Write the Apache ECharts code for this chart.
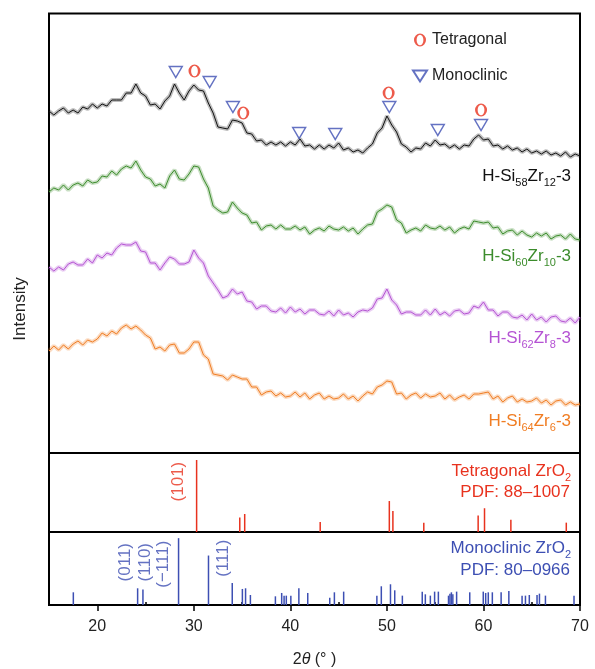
<!DOCTYPE html>
<html>
<head>
<meta charset="utf-8">
<script src="https://cdn.jsdelivr.net/npm/echarts@6.0.0/dist/echarts.min.js"></script>
<style>
html, body { margin: 0; padding: 0; background: #fff; }
#xrd_chart { width: 595px; height: 669px; }
</style>
</head>
<body>
<div id="xrd_chart"></div>
<script>
var xrdChart = echarts.init(document.getElementById('xrd_chart'));

//scan grid of the traces: 15-70 deg, one reading every 0.5 deg
var scanStart = 15;
var scanStep = 0.5;

//traces (a.u., already stacked with their offsets)
var si58zr12 = [
    342,338,342,345,340,343,340,346,344,349,
    345,349,347,353,353,353,360,360,369,360,
    357,348,349,344,352,357,369,360,353,362,
    368,363,362,350,340,326,325,324,333,332,
    330,320,319,312,313,308,311,308,311,307,
    311,308,314,307,308,304,308,304,308,305,
    310,303,305,301,303,300,305,309,320,325,
    337,328,321,309,306,301,305,304,310,307,
    313,308,309,305,308,304,308,307,314,318,
    313,314,307,308,304,307,303,305,301,304,
    300,302,299,302,298,300,297,301,296,299,
    297
];
var si60zr10 = [
    261,265,263,268,263,268,270,267,273,270,
    271,277,276,282,278,284,287,285,292,283,
    276,274,267,269,265,277,283,274,273,279,
    287,286,274,265,247,243,240,241,251,245,
    240,238,230,231,223,227,228,224,228,224,
    224,227,223,226,219,223,225,222,227,224,
    223,226,222,225,219,224,228,229,241,244,
    248,246,233,230,220,223,225,222,228,225,
    224,227,223,226,220,224,226,224,232,231,
    230,231,225,226,219,222,223,218,222,218,
    216,220,217,220,214,217,218,214,219,214,
    213
];
var si62zr8 = [
    186,182,186,183,189,191,188,188,194,190,
    198,195,200,198,205,209,208,208,211,202,
    201,190,190,183,190,196,194,189,189,191,
    203,195,190,177,170,163,155,157,164,159,
    161,152,151,144,147,147,142,141,145,140,
    146,141,144,139,143,143,139,138,142,137,
    143,138,140,136,141,143,142,145,154,155,
    164,153,148,139,141,141,138,138,143,138,
    144,138,141,137,142,143,139,140,147,145,
    151,143,143,137,141,141,136,135,138,133,
    139,133,136,131,136,137,132,131,135,130,
    136
];
var si64zr6 = [
    102,107,103,108,104,109,112,108,113,111,
    114,120,117,122,119,125,128,124,127,123,
    118,115,104,106,102,108,109,100,100,104,
    111,111,98,94,79,78,77,73,78,76,
    74,74,66,66,58,61,62,57,60,56,
    57,61,56,60,54,58,60,54,57,54,
    55,59,54,57,52,57,61,59,66,68,
    72,71,59,60,54,58,60,55,59,56,
    57,60,54,58,53,56,58,54,59,59,
    60,61,54,57,51,55,57,51,54,51,
    52,55,50,53,48,52,53,48,51,48,
    49
];

//phase marks on the top trace [2theta, height]
var monoMarks = [[28.13,381],[31.64,371],[34.05,346],[40.91,320],[44.65,319],[50.25,346],[55.27,323],[59.75,328]];
var tetraMarks = [[30.07,382],[35.12,340],[50.18,360],[59.75,343]];

//reference patterns [2theta, relative intensity]
var tetraPdf = [[30.29,100],[34.76,20],[35.27,25],[43.09,14],[50.25,43],[50.62,29],[53.82,13],[59.45,23],[60.11,33],[62.84,17],[68.58,13]];
var monoPdf = [
    [17.52,19],[24.18,25],[24.73,23],[28.42,100],[31.52,74],[33.98,33],[35.03,24],[35.36,25],[35.86,15],
    [38.45,13],[39.1,18],[39.35,14],[39.58,14],[40.05,14],[40.88,25],[41.8,18],[44.08,11],[44.56,19],
    [45.52,20],[48.96,14],[49.42,28],[50.37,31],[50.81,22],[51.6,14],[53.66,20],[53.98,16],[54.5,14],
    [54.94,20],[55.33,20],[56.38,14],[56.53,17],[56.68,19],[56.83,16],[57.22,20],[58.58,19],[59.98,20],
    [60.23,18],[60.5,19],[60.92,19],[61.83,19],[62.63,21],[64.0,14],[64.35,14],[64.75,15],[65.55,15],
    [65.8,17],[66.42,14],[69.38,14]
];

var tetraHkl = [{name: '(101)', value: [28.4, 70]}];
var monoHkl = [
    {name: '(011)', value: [22.92, 64]},
    {name: '(110)', value: [24.99, 64]},
    {name: '(\u2212111)', value: [26.88, 61]},
    {name: '(111)', value: [33.09, 70]}
];

var majorTicks = [20, 30, 40, 50, 60, 70];
var minorTicks = [25, 35, 45, 55, 65];

var FONT = "'Liberation Sans', Arial, sans-serif";
var RED = '#e8321e';
var BLUE = '#3d4fb3';
var ringPath = 'path://M6,0 A6,6.5 0 1 1 6,13 A6,6.5 0 1 1 6,0 Z M6,1.3 A3.4,5.2 0 1 0 6,11.7 A3.4,5.2 0 1 0 6,1.3 Z';
var triPath = 'path://M0,0 L14,0 L7,11 Z';

function toPairs(vals) {
    var out = [];
    for (var i = 0; i < vals.length; i++) {
        out.push([scanStart + i * scanStep, vals[i]]);
    }
    return out;
}

//each trace: a thin dark core plus a faint wide band, like the noisy scan
function traceSeries(name, vals, color) {
    var pts = toPairs(vals);
    return [
        {
            name: name + ' band',
            type: 'line',
            xAxisIndex: 0, yAxisIndex: 0,
            showSymbol: false, symbol: 'none', silent: true, z: 1,
            lineStyle: {color: color, width: 4, opacity: 0.28},
            data: pts
        },
        {
            name: name,
            type: 'line',
            xAxisIndex: 0, yAxisIndex: 0,
            showSymbol: false, symbol: 'none', silent: true, z: 2,
            lineStyle: {color: color, width: 1},
            data: pts
        }
    ];
}

//right-aligned text with subscripts
function tag(x, y, text, color) {
    return {
        type: 'text',
        x: x,
        y: y,
        silent: true,
        style: {
            text: text,
            align: 'right',
            verticalAlign: 'middle',
            fill: color,
            rich: {
                m: {fontSize: 17, lineHeight: 24, fontFamily: FONT, fill: color},
                s: {fontSize: 11, lineHeight: 24, verticalAlign: 'bottom', fontFamily: FONT, fill: color}
            }
        }
    };
}

var hiddenY = function (grid, max) {
    return {gridIndex: grid, type: 'value', min: 0, max: max, show: false};
};
var hiddenX = function (grid) {
    return {gridIndex: grid, type: 'value', min: 15, max: 70, show: false};
};
var frame = {show: true, borderColor: '#000', borderWidth: 2, backgroundColor: 'transparent'};

var series = [].concat(
    traceSeries('H-Si58Zr12-3', si58zr12, '#111111'),
    traceSeries('H-Si60Zr10-3', si60zr10, '#3c8c2c'),
    traceSeries('H-Si62Zr8-3', si62zr8, '#b553d3'),
    traceSeries('H-Si64Zr6-3', si64zr6, '#f07d23')
);

series.push(
    {
        name: 'Monoclinic',
        type: 'scatter',
        xAxisIndex: 0, yAxisIndex: 0, z: 5,
        symbol: triPath,
        symbolSize: [13, 11],
        itemStyle: {color: 'rgba(255,255,255,0)', borderColor: BLUE, borderWidth: 1.4},
        data: monoMarks
    },
    {
        name: 'Tetragonal',
        type: 'scatter',
        xAxisIndex: 0, yAxisIndex: 0, z: 5,
        symbol: ringPath,
        symbolSize: [12, 13],
        itemStyle: {color: RED},
        data: tetraMarks
    },
    {
        name: 'Tetragonal ZrO2',
        type: 'bar',
        xAxisIndex: 1, yAxisIndex: 1,
        barWidth: 1.5,
        itemStyle: {color: RED},
        data: tetraPdf
    },
    {
        name: 'Monoclinic ZrO2',
        type: 'bar',
        xAxisIndex: 2, yAxisIndex: 2,
        barWidth: 1.5,
        itemStyle: {color: BLUE},
        data: monoPdf
    },
    {
        name: 'tetra hkl',
        type: 'scatter',
        xAxisIndex: 1, yAxisIndex: 1,
        symbolSize: 0,
        label: {show: true, formatter: '{b}', rotate: 90, position: 'inside', fontSize: 17, color: RED, fontFamily: FONT},
        data: tetraHkl
    },
    {
        name: 'mono hkl',
        type: 'scatter',
        xAxisIndex: 2, yAxisIndex: 2,
        symbolSize: 0,
        label: {show: true, formatter: '{b}', rotate: 90, position: 'inside', fontSize: 17, color: BLUE, fontFamily: FONT},
        data: monoHkl
    }
);

var option = {
    animation: false,
    backgroundColor: '#fff',
    grid: [
        Object.assign({left: 49, top: 13.5, width: 531, height: 439.5}, frame),
        Object.assign({left: 49, top: 453, width: 531, height: 79}, frame),
        Object.assign({left: 49, top: 532, width: 531, height: 75}, frame)
    ],
    xAxis: [
        hiddenX(0),
        hiddenX(1),
        {
            gridIndex: 2, type: 'value', min: 15, max: 70,
            axisLine: {show: true, onZero: false, lineStyle: {color: '#000', width: 2}},
            axisTick: {show: true, customValues: majorTicks, length: 6, lineStyle: {color: '#000', width: 1.5}},
            axisLabel: {show: true, customValues: majorTicks, margin: 14, fontSize: 16, color: '#222', fontFamily: FONT},
            splitLine: {show: false},
            name: '{n|2}{i|\u03b8}{n| (\u00b0 )}',
            nameLocation: 'middle',
            nameGap: 47,
            nameTextStyle: {
                rich: {
                    n: {fontSize: 16, color: '#222', fontFamily: FONT},
                    i: {fontSize: 16, color: '#222', fontFamily: FONT, fontStyle: 'italic'}
                }
            }
        },
        {
            gridIndex: 2, type: 'value', min: 15, max: 70,
            axisLine: {show: false},
            axisTick: {show: true, customValues: minorTicks, length: 3, lineStyle: {color: '#000', width: 1.5}},
            axisLabel: {show: false},
            splitLine: {show: false}
        }
    ],
    yAxis: [hiddenY(0, 439.5), hiddenY(1, 109.7), hiddenY(2, 109.2)],
    legend: {
        left: 407,
        top: 27,
        orient: 'vertical',
        itemWidth: 14,
        itemHeight: 13,
        itemGap: 20,
        selectedMode: false,
        textStyle: {fontSize: 16, color: '#222', fontFamily: FONT},
        data: [
            {name: 'Tetragonal', icon: ringPath},
            {name: 'Monoclinic', icon: triPath}
        ]
    },
    series: series,
    graphic: [
        {
            type: 'text', x: 20, y: 309, rotation: Math.PI / 2, silent: true,
            style: {text: 'Intensity', fontSize: 17, fontFamily: FONT, fill: '#222', align: 'center', verticalAlign: 'middle'}
        },
        tag(571, 176, '{m|H-Si}{s|58}{m|Zr}{s|12}{m|-3}', '#111111'),
        tag(571, 256, '{m|H-Si}{s|60}{m|Zr}{s|10}{m|-3}', '#3c8c2c'),
        tag(571, 338, '{m|H-Si}{s|62}{m|Zr}{s|8}{m|-3}', '#b553d3'),
        tag(571, 421, '{m|H-Si}{s|64}{m|Zr}{s|6}{m|-3}', '#f07d23'),
        tag(571, 471, '{m|Tetragonal ZrO}{s|2}', RED),
        tag(570, 492, '{m|PDF: 88\u20131007}', RED),
        tag(571, 548, '{m|Monoclinic ZrO}{s|2}', BLUE),
        tag(570, 570, '{m|PDF: 80\u20130966}', BLUE)
    ]
};

xrdChart.setOption(option);
</script>
</body>
</html>
